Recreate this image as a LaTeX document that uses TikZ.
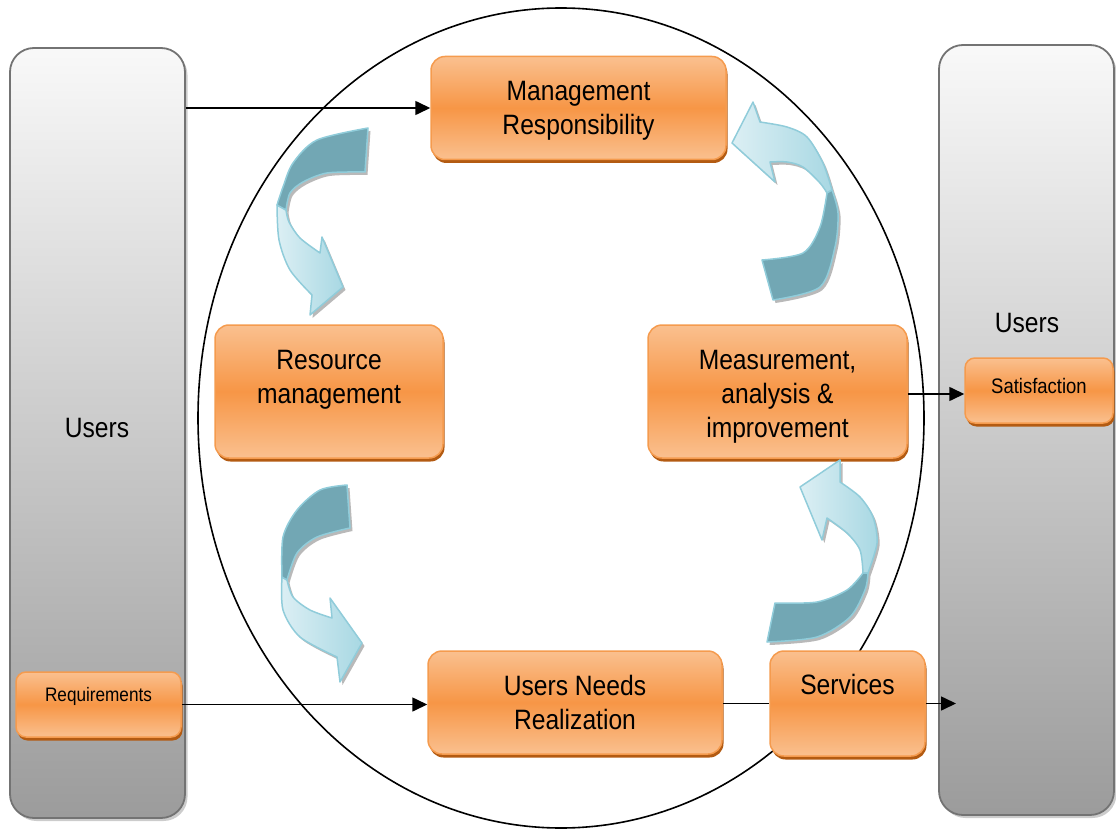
\documentclass[tikz,border=0pt]{standalone}
\usepackage{fontspec}
\setmainfont{Liberation Sans}[FakeStretch=0.88]
\usetikzlibrary{arrows.meta,shadows}

\definecolor{boxLight}{HTML}{FAC08F}
\definecolor{boxMid}{HTML}{F79646}
\definecolor{boxEdge}{HTML}{F59B4E}
\definecolor{boxShade}{HTML}{B35B12}
\definecolor{bendDark}{HTML}{72A7B4}
\definecolor{bendLight}{HTML}{DCEFF4}
\definecolor{bendMid}{HTML}{A8D8E3}
\definecolor{bendEdge}{HTML}{90CCDA}

\newcommand\stagefont{\fontsize{28}{34}\selectfont}
\newcommand\tagfont{\fontsize{19.5}{24}\selectfont}

% twisted bent arrow: #1 dark tail part, #2 light head part
\newcommand\bendarrow[2]{%
  \begin{scope}[shift={(2.5,3)}]
    \fill[gray!55] #1; \fill[gray!55] #2;
  \end{scope}
  \path[bendhead] #2;
  \path[bendtail] #1;
}

\begin{document}
\begin{tikzpicture}[x=1pt, y=-1pt, >={Triangle[length=15pt,width=14pt]},
  panel/.style={draw=black!55, line width=1.8pt, rounded corners=24pt, top color=gray!5, bottom color=gray!78,
    minimum width=175pt, minimum height=770pt, inner sep=0pt,
    drop shadow={shadow xshift=2.5pt, shadow yshift=-3pt, fill=gray!40, opacity=1}},
  stage/.style={draw=boxEdge, line width=1.5pt, rounded corners=14pt, top color=boxLight, bottom color=boxLight,
    middle color=boxMid, align=center, font=\stagefont, inner sep=0pt,
    drop shadow={shadow xshift=1.5pt, shadow yshift=-3.5pt, fill=boxShade, opacity=1}},
  tag/.style={stage, rounded corners=10pt, font=\tagfont},
  link/.style={line width=1.6pt, ->},
  bendtail/.style={fill=bendDark, draw=bendEdge, line width=1.5pt, line join=round},
  bendhead/.style={left color=bendLight, right color=bendMid, draw=bendEdge, line width=1.5pt, line join=round}]
\useasboundingbox (0,0) rectangle (1116,829);

% users on both sides
\node[panel] (usersL) at (97.5,433) {};
\node[panel] (usersR) at (1026.5,430) {};
\node[font=\stagefont] (usersLtitle) at (97,428) {Users};
\node[font=\stagefont] (usersRtitle) at (1027,323) {Users};

% the cycle
\draw[line width=1.6pt] (561,418) ellipse [x radius=363, y radius=410];

% stages
\node[stage, minimum width=295pt, minimum height=103pt,
  label={[font=\stagefont, align=center, yshift=-3pt]center:Management\\Responsibility}] (mgmt) at (578.5,108) {};
\node[stage, minimum width=228pt, minimum height=133pt,
  label={[font=\stagefont, align=center, yshift=12pt]center:Resource\\management}] (resrc) at (329,391.5) {};
\node[stage, minimum width=259pt, minimum height=133pt,
  label={[font=\stagefont, align=center, yshift=-5pt]center:Measurement,\\analysis \&\\improvement}] (measure) at (777.5,391.5) {};
\node[stage, minimum width=294pt, minimum height=103pt] (need) at (575,702.5) {Users Needs\\Realization};
\node[stage, minimum width=155pt, minimum height=105pt,
  label={[font=\stagefont, yshift=19pt]center:Services}] (serv) at (847.5,703.5) {};
\node[tag, minimum width=165pt, minimum height=65pt,
  label={[font=\tagfont, yshift=8pt]center:Requirements}] (req) at (98.5,704.5) {};
\node[tag, minimum width=148pt, minimum height=65pt,
  label={[font=\fontsize{21}{25}\selectfont, yshift=5pt]center:Satisfaction}] (satis) at (1039,390.5) {};
\coordinate (inR) at (956,703.5);

% connectors
\draw[link] (usersL.east |- mgmt.west) -- (mgmt.west);
\draw[link] (req.east) -- (req.east -| need.west);
\draw[line width=1.6pt] (need.east |- serv.west) -- (serv.west);
\draw[link] (serv.east) -- (inR);
\draw[link] (measure.east |- 0,394) -- (satis.west |- 0,394);

% bent arrows between the stages
\bendarrow
  {plot[smooth] coordinates {(368,128) (317,140) (293,163) (283,187) (277,205)}
    -- plot[smooth] coordinates {(286,210) (290,193) (303,182) (327,173) (365,172)} -- cycle}
  {plot[smooth] coordinates {(277,205) (279,240) (290,270) (312,295)}
    -- (310,315) -- (343,287) -- (322,237)
    -- plot[smooth] coordinates {(320,253) (300,238) (289,222) (286,210)} -- cycle}
\bendarrow
  {plot[smooth] coordinates {(347,485) (320,490) (297,510) (283,537) (282,577)}
    -- plot[smooth] coordinates {(287,580) (297,553) (317,537) (350,528)} -- cycle}
  {plot[smooth] coordinates {(282,577) (283,610) (300,637) (337,657)}
    -- (340,682) -- (362,643) -- (330,598)
    -- plot[smooth] coordinates {(332,618) (310,610) (293,597) (287,580)} -- cycle}
\bendarrow
  {plot[smooth] coordinates {(773,300) (820,287) (835,247) (838,213) (832,190)}
    -- plot[smooth] coordinates {(827,193) (820,227) (803,253) (762,260)} -- cycle}
  {plot[smooth] coordinates {(832,190) (823,163) (807,137) (787,127) (760,122)}
    -- (753,102) -- (732,143) -- (775,182)
    -- plot[smooth] coordinates {(770,162) (787,162) (803,167) (820,183) (827,193)} -- cycle}
\bendarrow
  {plot[smooth] coordinates {(767,642) (817,637) (850,617) (865,590) (868,573)}
    -- plot[smooth] coordinates {(863,573) (847,590) (817,602) (775,603)} -- cycle}
  {plot[smooth] coordinates {(868,573) (877,543) (873,517) (860,497) (840,482)}
    -- (840,460) -- (800,487) -- (822,540)
    -- plot[smooth] coordinates {(827,518) (847,533) (860,550) (863,573)} -- cycle}
\end{tikzpicture}
\end{document}
